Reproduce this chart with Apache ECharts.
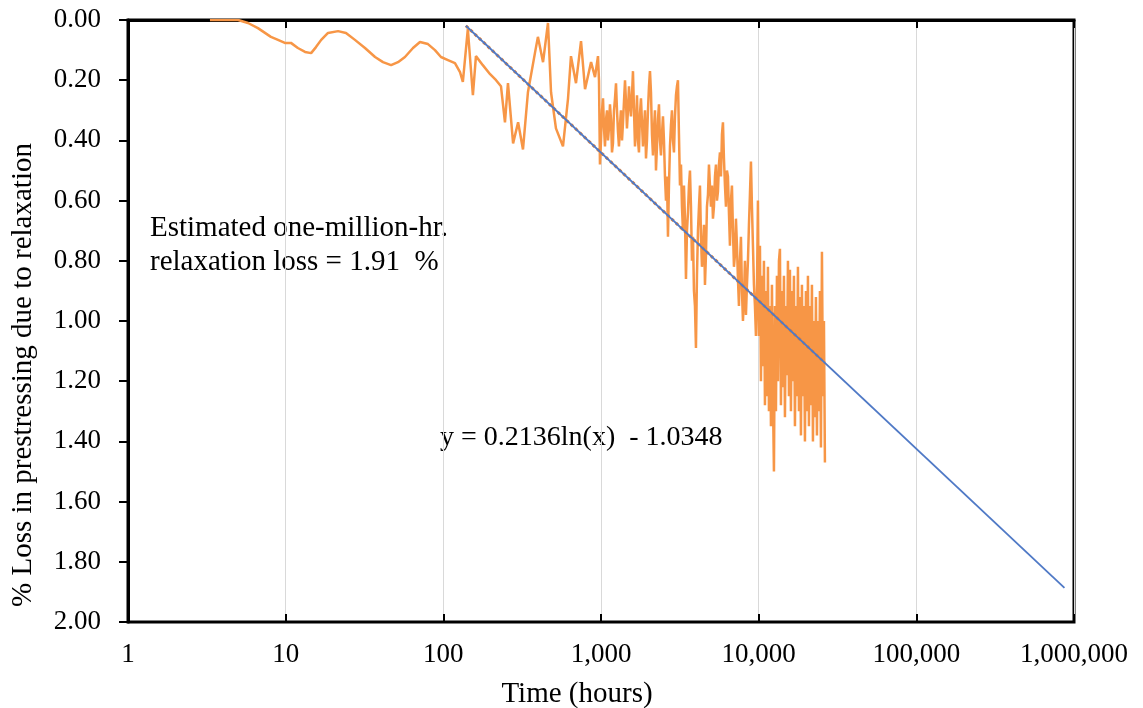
<!DOCTYPE html>
<html>
<head>
<meta charset="utf-8">
<script src="https://cdn.jsdelivr.net/npm/echarts@6/dist/echarts.min.js"></script>
<style>
  html, body { margin: 0; padding: 0; background: #fff; }
  #chart { width: 1143px; height: 708px; }
</style>
</head>
<body>
<div id="chart"></div>
<script>
// Measured relaxation loss: time in hours and % loss, point by point
const measuredHours = [
  3.31, 4.00, 4.99, 5.77, 6.67, 8.06, 8.94, 9.88, 10.8, 11.95,
  13.27, 14.5, 15.57, 16.8, 18.56, 21.5, 24.13, 27.5, 31.85, 36.9,
  41.42, 46.6, 51.58, 57.1, 64.2, 71.1, 79.9, 88.5, 96.6, 107,
  118.5, 127.6, 133, 143, 154, 161, 178, 198, 216, 232,
  246, 257, 277, 298, 320, 344, 381, 398, 429, 461,
  482, 518, 574, 618, 645, 694, 747, 792, 865, 916,
  957, 971, 985, 1000, 1015, 1030, 1045, 1060, 1076, 1092,
  1107, 1123, 1140, 1157, 1174, 1191, 1209, 1227, 1245, 1263,
  1281, 1300, 1319, 1338, 1359, 1379, 1399, 1420, 1440, 1461,
  1483, 1505, 1527, 1549, 1572, 1595, 1619, 1643, 1667, 1692,
  1716, 1741, 1767, 1793, 1819, 1846, 1873, 1901, 1929, 1957,
  1986, 2015, 2045, 2075, 2105, 2136, 2168, 2200, 2232, 2265,
  2298, 2332, 2366, 2401, 2436, 2472, 2508, 2545, 2583, 2621,
  2659, 2698, 2738, 2778, 2819, 2861, 2903, 2946, 2989, 3033,
  3077, 3122, 3169, 3216, 3262, 3310, 3359, 3409, 3459, 3510,
  3561, 3613, 3667, 3721, 3775, 3831, 3887, 3944, 4002, 4061,
  4121, 4182, 4243, 4306, 4369, 4433, 4498, 4564, 4631, 4699,
  4769, 4839, 4910, 4982, 5055, 5130, 5205, 5282, 5360, 5439,
  5518, 5599, 5682, 5766, 5850, 5936, 6023, 6112, 6202, 6293,
  6385, 6479, 6575, 6672, 6769, 6869, 6970, 7073, 7177, 7283,
  7389, 7498, 7608, 7720, 7834, 7949, 8066, 8185, 8305, 8427,
  8551, 8677, 8804, 8934, 9065, 9199, 9334, 9472, 9610, 9752,
  9895, 10041, 10188, 10338, 10490, 10645, 10801, 10960, 11121, 11285,
  11451, 11620, 11790, 11964, 12140, 12319, 12499, 12683, 12870, 13060,
  13251, 13446, 13644, 13845, 14048, 14255, 14465, 14678, 14893, 15112,
  15335, 15561, 15789, 16022, 16257, 16497, 16739, 16986, 17235, 17489,
  17746, 18008, 18272, 18541, 18813, 19090, 19371, 19656, 19945, 20239,
  20536, 20839, 21145, 21457, 21771, 22092, 22417, 22747, 23081, 23421,
  23765, 24115, 24469, 24830, 25195, 25566, 25941, 26320
];
const measuredLoss = [
  0.00, 0.00, 0.00, 0.01, 0.027, 0.056, 0.066, 0.076, 0.076, 0.093,
  0.106, 0.11, 0.09, 0.066, 0.043, 0.037, 0.043, 0.066, 0.093, 0.123,
  0.14, 0.15, 0.14, 0.123, 0.093, 0.073, 0.08, 0.10, 0.123, 0.133,
  0.143, 0.173, 0.206, 0.03, 0.25, 0.12, 0.15, 0.18, 0.20, 0.22,
  0.34, 0.21, 0.41, 0.34, 0.43, 0.24, 0.11, 0.056, 0.14, 0.01,
  0.24, 0.36, 0.42, 0.26, 0.12, 0.21, 0.07, 0.23, 0.14, 0.19,
  0.12, 0.20, 0.48, 0.40, 0.30, 0.26, 0.36, 0.42, 0.33, 0.30,
  0.40, 0.36, 0.28, 0.33, 0.44, 0.41, 0.30, 0.26, 0.21, 0.30,
  0.37, 0.42, 0.35, 0.30, 0.40, 0.34, 0.27, 0.20, 0.27, 0.36,
  0.30, 0.22, 0.28, 0.32, 0.25, 0.17, 0.30, 0.42, 0.35, 0.25,
  0.40, 0.44, 0.31, 0.26, 0.34, 0.42, 0.36, 0.30, 0.46, 0.40,
  0.30, 0.22, 0.17, 0.24, 0.38, 0.45, 0.36, 0.30, 0.50, 0.42,
  0.33, 0.28, 0.40, 0.45, 0.38, 0.32, 0.40, 0.52, 0.60, 0.52,
  0.72, 0.55, 0.42, 0.35, 0.30, 0.40, 0.44, 0.32, 0.25, 0.22,
  0.20, 0.38, 0.55, 0.48, 0.62, 0.70, 0.55, 0.66, 0.86, 0.70,
  0.64, 0.55, 0.50, 0.62, 0.80, 0.72, 0.90, 0.95, 1.09, 0.85,
  0.70, 0.62, 0.55, 0.72, 0.82, 0.76, 0.68, 0.88, 0.78, 0.62,
  0.58, 0.48, 0.55, 0.62, 0.55, 0.66, 0.62, 0.52, 0.48, 0.60,
  0.57, 0.48, 0.44, 0.52, 0.38, 0.34, 0.46, 0.55, 0.62, 0.50,
  0.52, 0.64, 0.75, 0.60, 0.55, 0.70, 0.82, 0.78, 0.66, 0.75,
  0.86, 0.95, 0.80, 0.72, 0.90, 1.00, 0.92, 0.80, 0.98, 0.88,
  0.80, 0.68, 0.58, 0.47, 0.62, 0.75, 0.88, 0.95, 1.05, 0.90,
  0.60, 1.05, 0.75, 1.20, 0.85, 1.15, 0.80, 1.28, 0.90, 1.25,
  0.82, 1.30, 0.95, 1.35, 0.88, 1.25, 1.50, 0.95, 1.30, 0.85,
  1.20, 0.80, 0.76, 1.28, 0.90, 1.22, 0.85, 1.32, 0.95, 1.18,
  0.80, 1.25, 0.83, 1.30, 0.90, 1.20, 0.85, 1.35, 0.95, 1.25,
  0.82, 1.30, 0.92, 1.38, 0.88, 1.25, 0.95, 1.40, 0.90, 1.30,
  0.85, 1.35, 0.95, 1.28, 0.88, 1.40, 1.00, 1.32, 0.92, 1.38,
  1.00, 1.30, 0.90, 1.42, 0.77, 1.25, 1.00, 1.47
];

// Logarithmic fit y = a ln(x) + b and the time spans it is drawn over
const fitA = 0.2136;
const fitB = -1.0348;
const fitHours = [139, 870000];
const fittedOverData = [139, 26320];

// Axis tick labels
const xTickLabels = ['1', '10', '100', '1,000', '10,000', '100,000', '1,000,000'];
const yTickLabels = ['0.00', '0.20', '0.40', '0.60', '0.80', '1.00', '1.20', '1.40', '1.60', '1.80', '2.00'];

const measured = measuredHours.map((h, i) => [h, measuredLoss[i]]);
const fitLine = fitHours.map(h => [h, fitA * Math.log(h) + fitB]);
const fitDots = fittedOverData.map(h => [h, fitA * Math.log(h) + fitB]);

const serif = '"Liberation Serif", "DejaVu Serif", serif';
const chart = echarts.init(document.getElementById('chart'));

chart.setOption({
  backgroundColor: '#ffffff',
  animation: false,
  grid: {
    left: 128, right: 69, top: 20, bottom: 86,
    show: true, borderColor: '#000', borderWidth: 3, backgroundColor: 'transparent'
  },
  xAxis: [{
    type: 'log', logBase: 10, min: 1, max: 1000000,
    axisLine: { lineStyle: { color: '#000', width: 3 } },
    axisTick: { show: true, length: 8, lineStyle: { color: '#000', width: 2 } },
    axisLabel: {
      fontFamily: serif, fontSize: 27, color: '#000', margin: 19,
      formatter: v => xTickLabels[Math.round(Math.log10(v))]
    },
    splitLine: { show: true, lineStyle: { color: '#d9d9d9', width: 1 } }
  }, {
    type: 'log', logBase: 10, min: 1, max: 1000000, position: 'bottom',
    axisLine: { show: false },
    axisTick: { show: true, inside: true, length: 8, lineStyle: { color: '#000', width: 2 } },
    axisLabel: { show: false },
    splitLine: { show: false }
  }],
  yAxis: {
    type: 'value', inverse: true, min: 0, max: 2, interval: 0.2,
    axisLine: { show: true, lineStyle: { color: '#000', width: 3 } },
    axisTick: { show: true, length: 9, lineStyle: { color: '#000', width: 2 } },
    axisLabel: {
      fontFamily: serif, fontSize: 27, color: '#000', margin: 27,
      formatter: v => yTickLabels[Math.round(v / 0.2)]
    },
    splitLine: { show: false }
  },
  series: [
    {
      name: 'Measured', type: 'line', data: measured, showSymbol: false,
      lineStyle: { color: '#F79646', width: 2.5 }, z: 2
    },
    {
      name: 'Fitted', type: 'line', data: fitDots, showSymbol: false,
      lineStyle: { color: '#E8802E', width: 3, type: 'dotted' }, z: 3
    },
    {
      name: 'Log. fit', type: 'line', data: fitLine, showSymbol: false,
      lineStyle: { color: '#4F79C6', width: 1.8 }, z: 4
    }
  ],
  graphic: [
    { type: 'text', x: 23, y: 375, rotation: Math.PI / 2,
      style: { text: '% Loss in prestressing due to relaxation', font: '29px ' + serif,
               fill: '#000', align: 'center', verticalAlign: 'middle' } },
    { type: 'text', x: 577, y: 694,
      style: { text: 'Time (hours)', font: '29px ' + serif,
               fill: '#000', align: 'center', verticalAlign: 'middle' } },
    { type: 'text', x: 150, y: 228,
      style: { text: 'Estimated one-million-hr.', font: '29px ' + serif,
               fill: '#000', align: 'left', verticalAlign: 'middle' } },
    { type: 'text', x: 150, y: 262,
      style: { text: 'relaxation loss = 1.91  %', font: '29px ' + serif,
               fill: '#000', align: 'left', verticalAlign: 'middle' } },
    { type: 'text', x: 440, y: 438,
      style: { text: 'y = 0.2136ln(x)  - 1.0348', font: '28px ' + serif,
               fill: '#000', align: 'left', verticalAlign: 'middle' } }
  ]
});
</script>
</body>
</html>
